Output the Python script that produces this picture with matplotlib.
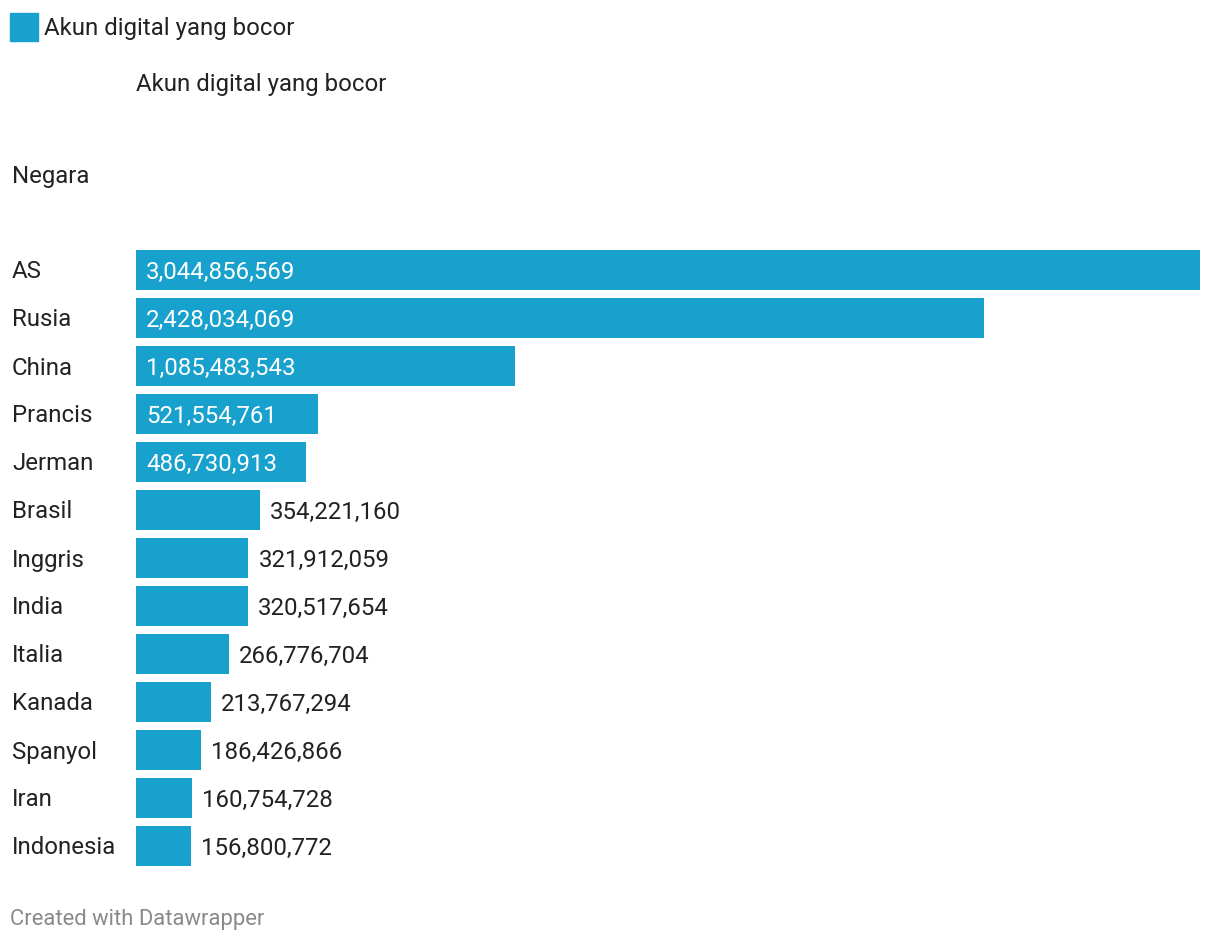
import matplotlib.pyplot as plt
from matplotlib.patches import Rectangle

countries = ["AS", "Rusia", "China", "Prancis", "Jerman", "Brasil", "Inggris",
             "India", "Italia", "Kanada", "Spanyol", "Iran", "Indonesia"]
leaked = [3044856569, 2428034069, 1085483543, 521554761, 486730913, 354221160,
          321912059, 320517654, 266776704, 213767294, 186426866, 160754728,
          156800772]
series_name = "Akun digital yang bocor"

W, H = 1220, 944
BLUE = "#18a1cd"
plt.rcParams["font.family"] = ["Roboto", "DejaVu Sans"]
FS = 17.3
DY = 2  # small downward nudge so text sits like the original

fig = plt.figure(figsize=(W / 100, H / 100), dpi=100)


def fx(x):
    return x / W


def fy(y):
    return 1 - (y + DY) / H


# bars area: x 136..1200 px, rows of 48 px starting at y=246
top, bottom = 246, 246 + 48 * len(countries)
ax = fig.add_axes([fx(136), 1 - bottom / H, fx(1200) - fx(136), (bottom - top) / H])
ax.barh(range(len(countries)), leaked, height=40 / 48, color=BLUE)
ax.set_xlim(0, max(leaked))
ax.set_ylim(len(countries) - 0.5, -0.5)
ax.axis("off")

for i, v in enumerate(leaked):
    label = f"{v:,}"
    if v > 400e6:
        ax.annotate(label, xy=(0, i), xytext=(10, -DY), textcoords="offset pixels",
                    ha="left", va="center", color="white", fontsize=FS)
    else:
        ax.annotate(label, xy=(v, i), xytext=(10, -DY), textcoords="offset pixels",
                    ha="left", va="center", color="#222222", fontsize=FS)
    fig.text(fx(12), fy(top + 24 + 48 * i), countries[i], ha="left",
             va="center", fontsize=FS, color="#222222")

# legend and headers
fig.patches.append(Rectangle((fx(10), 1 - 41 / H), 28 / W, 28 / H, color=BLUE,
                             transform=fig.transFigure, figure=fig))
fig.text(fx(44), fy(26), series_name, ha="left", va="center", fontsize=FS,
         color="#222222")
fig.text(fx(136), fy(82), series_name, ha="left", va="center", fontsize=FS,
         color="#222222")
fig.text(fx(12), fy(174), "Negara", ha="left", va="center", fontsize=FS,
         color="#222222")
fig.text(fx(10), fy(918), "Created with Datawrapper", ha="left", va="center",
         fontsize=15.8, color="#8a8a8a")

fig.savefig("out.png", dpi=100)
